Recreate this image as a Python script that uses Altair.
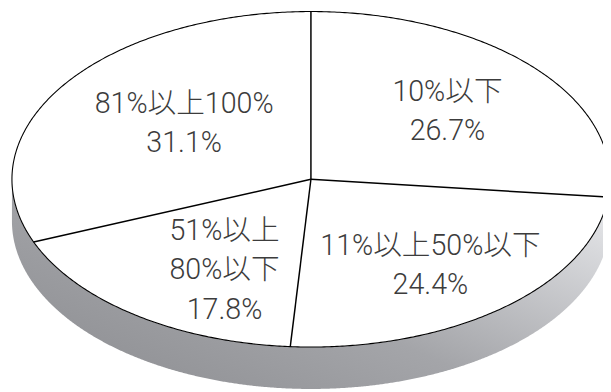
import altair as alt
import pandas as pd
import numpy as np

# ---- data ----
categories = ["10%以下", "11%以上50%以下", "51%以上\n80%以下", "81%以上100%"]
shares = [26.7, 24.4, 17.8, 31.1]

# ---- style / geometry constants ----
DEPTH = 0.25        # thickness of the pie, in units of the vertical radius
LABEL_RX = 0.56     # label distance from centre (fraction of horizontal radius)
LABEL_RY = 0.64     # label distance from centre (fraction of vertical radius)
LABEL_CX = 0.04     # small offset of the label ring centre
LABEL_CY = 0.025
LINE_H = 40         # px between text lines
Y_RANGE = 340       # px spanned by the vertical diameter
FONT = "Roboto, Noto Sans CJK JP, sans-serif"

total = float(sum(shares))
cum = np.concatenate([[0.0], np.cumsum(shares)]) / total * 2 * np.pi  # clockwise from top

# outline of the top face
t = np.linspace(0, 2 * np.pi, 721)
outline = pd.DataFrame({"x": np.sin(t), "y": -np.cos(t), "i": np.arange(len(t))})

# top face fill / side band
th = np.linspace(0, np.pi, 721)
xs = np.cos(th)
face = pd.DataFrame({"x": xs, "y": -np.sin(th), "y2": np.sin(th)})
side = pd.DataFrame({"x": xs, "y": np.sin(th), "y2": np.sin(th) + DEPTH})

# slice boundaries
b = cum[:-1]
bounds = pd.DataFrame({"x": 0.0, "y": 0.0, "x2": np.sin(b), "y2": -np.cos(b)})

# labels (vertically centred: shift up by half the extra lines)
mid = (cum[:-1] + cum[1:]) / 2
texts = [f"{c}\n{s}%" for c, s in zip(categories, shares)]
nlines = np.array([tx.count("\n") + 1 for tx in texts])
labels = pd.DataFrame({
    "x": LABEL_CX + LABEL_RX * np.sin(mid),
    "y": LABEL_CY - LABEL_RY * np.cos(mid) - (nlines - 1) * LINE_H / 2 / (Y_RANGE / 2),
    "text": texts,
})

xsc = alt.Scale(domain=[-1, 1], range=[4, 610])
ysc = alt.Scale(domain=[-1, 1], range=[1, 1 + Y_RANGE])

grad = alt.Gradient(
    gradient="linear",
    stops=[
        alt.GradientStop(color="#8a8b8f", offset=0),
        alt.GradientStop(color="#a4a5a9", offset=0.5),
        alt.GradientStop(color="#e2e3e6", offset=1),
    ],
    x1=0, y1=1, x2=1, y2=0.2,
)

side_layer = alt.Chart(side).mark_area(color=grad).encode(
    x=alt.X("x:Q", scale=xsc, axis=None),
    y=alt.Y("y:Q", scale=ysc, axis=None),
    y2="y2:Q",
)

face_layer = alt.Chart(face).mark_area(color="white").encode(
    x=alt.X("x:Q", scale=xsc, axis=None),
    y=alt.Y("y:Q", scale=ysc, axis=None),
    y2="y2:Q",
)

outline_layer = alt.Chart(outline).mark_line(color="black", strokeWidth=1.1).encode(
    x=alt.X("x:Q", scale=xsc, axis=None),
    y=alt.Y("y:Q", scale=ysc, axis=None),
    order="i:Q",
)

bound_layer = alt.Chart(bounds).mark_rule(color="black", strokeWidth=1.5).encode(
    x=alt.X("x:Q", scale=xsc, axis=None),
    y=alt.Y("y:Q", scale=ysc, axis=None),
    x2="x2:Q",
    y2="y2:Q",
)

text_layer = alt.Chart(labels).mark_text(
    font=FONT, fontSize=29, fontWeight=300, color="#3c3c3c",
    lineBreak="\n", lineHeight=LINE_H, align="center", baseline="middle",
).encode(
    x=alt.X("x:Q", scale=xsc, axis=None),
    y=alt.Y("y:Q", scale=ysc, axis=None),
    text="text:N",
)

chart = alt.layer(side_layer, face_layer, outline_layer, bound_layer, text_layer).properties(
    width=603, height=384, padding=0, autosize="none", background="white"
).configure_view(stroke=None)

chart.save("out.html", embed_options={"renderer": "svg", "actions": False})
